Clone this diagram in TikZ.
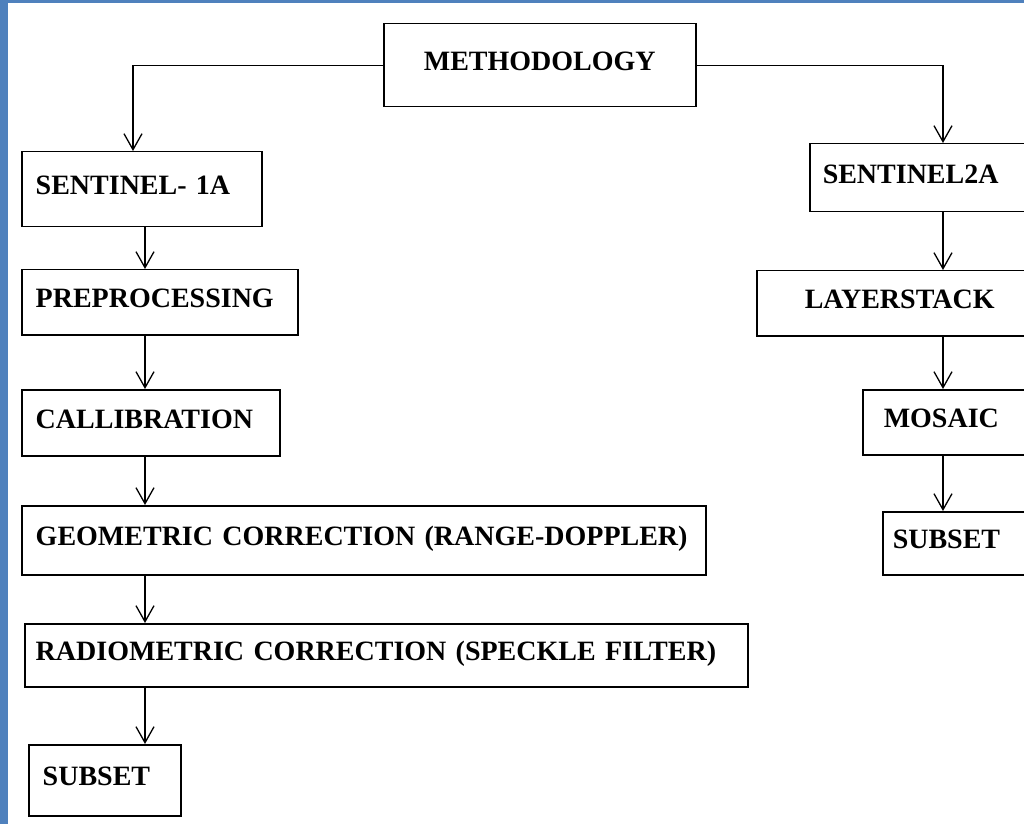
\documentclass[tikz,border=0pt]{standalone}
\usepackage{fontspec}
\setmainfont{Liberation Serif}
\usetikzlibrary{arrows.meta}
\definecolor{frameblue}{RGB}{79,129,189}

\begin{document}
\begin{tikzpicture}[x=0.5pt,y=-0.5pt,
  box/.style={draw,line width=0.75pt,anchor=north west,align=left,inner ysep=0pt,text depth=4pt,
    font=\fontsize{14}{16}\selectfont\bfseries},
  arr/.style={-{Straight Barb[length=8pt,width=9pt]},line width=0.65pt}]
\useasboundingbox (0,0) rectangle (1024,824);
\clip (0,0) rectangle (1024,824);
\fill[frameblue] (0,0) rectangle (8,824);
\fill[frameblue] (0,0) rectangle (1024,3);
\node[box,align=center,minimum width=156pt,minimum height=41.5pt] (meth) at (383,23) {METHODOLOGY};
\node[box,inner xsep=7pt,text width=106pt,minimum height=37.5pt] (s1) at (21,151) {SENTINEL- 1A};
\node[box,inner xsep=7pt,text width=124pt,minimum height=32.5pt] (pre) at (21,269) {PREPROCESSING};
\node[box,inner xsep=7pt,text width=115pt,minimum height=33pt] (cal) at (21,389) {CALLIBRATION};
\node[box,inner xsep=7pt,text width=328pt,minimum height=34.5pt] (geo) at (21,505) {GEOMETRIC CORRECTION (RANGE-DOPPLER)};
\node[box,inner xsep=5.5pt,text width=350.5pt,minimum height=31.5pt] (rad) at (24,623) {RADIOMETRIC CORRECTION (SPECKLE FILTER)};
\node[box,inner xsep=7pt,text width=62pt,minimum height=35.5pt] (sub1) at (28,744) {SUBSET};
\node[box,inner xsep=6.5pt,text width=102.5pt,minimum height=34pt] (s2) at (809,143) {SENTINEL2A};
\node[box,inner xsep=24pt,text width=110pt,minimum height=32.5pt] (lay) at (756,270) {LAYERSTACK};
\node[box,inner xsep=10.5pt,text width=80pt,minimum height=32.5pt] (mos) at (862,389) {MOSAIC};
\node[box,inner xsep=5pt,text width=70pt,minimum height=31.5pt] (sub2) at (882,511) {SUBSET};
\coordinate (tx) at (133,0);
\coordinate (lx) at (145,0);
\coordinate (rx) at (943,0);
\draw[arr] (meth.west) -| (s1.north -| tx);
\draw[arr] (meth.east) -| (s2.north -| rx);
\draw[arr] (s1.south -| lx) -- (pre.north -| lx);
\draw[arr] (pre.south -| lx) -- (cal.north -| lx);
\draw[arr] (cal.south -| lx) -- (geo.north -| lx);
\draw[arr] (geo.south -| lx) -- (rad.north -| lx);
\draw[arr] (rad.south -| lx) -- (sub1.north -| lx);
\draw[arr] (s2.south -| rx) -- (lay.north -| rx);
\draw[arr] (lay.south -| rx) -- (mos.north -| rx);
\draw[arr] (mos.south -| rx) -- (sub2.north -| rx);
\end{tikzpicture}
\end{document}
